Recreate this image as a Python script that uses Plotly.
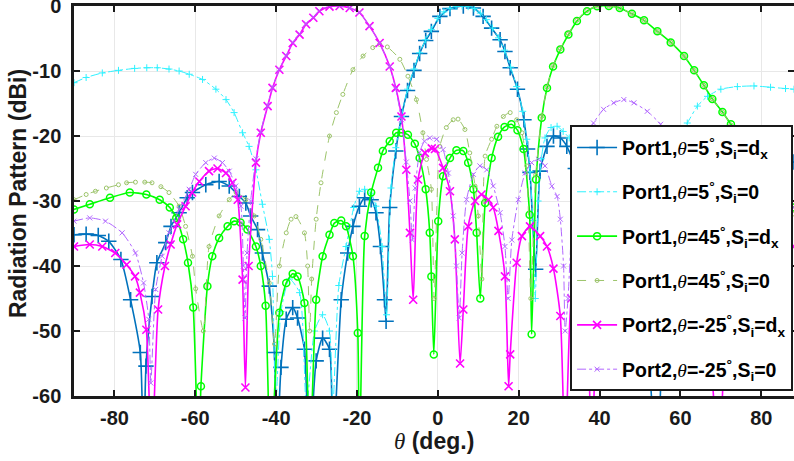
import plotly.graph_objects as go

# ---- data (theta in deg, pattern in dBi) ----
p1_5_dx = [(-90,-35.2),(-87,-35.1),(-84,-35.3),(-81.4,-36.2),(-78.4,-39),(-76,-45.2),(-73.6,-53.3),
           (-72.8,-70),(-72.2,-55.4),(-70.7,-44.7),(-69.5,-39.5),(-67.3,-36.4),(-66,-33.9),(-64,-31.8),
           (-62,-29.5),(-60.7,-28.7),(-57.4,-27.5),(-54.1,-27.0),(-51.6,-27.7),(-49.1,-29.3),(-47.5,-30.3),
           (-46.3,-32.3),(-44.6,-34.4),(-43.4,-38),(-41.7,-43.1),(-40.4,-53.3),(-39.9,-70),(-38.8,-55.6),
           (-37.5,-48.2),(-35.9,-46.4),(-34.7,-48),(-33,-52.8),(-31.8,-70),(-30.1,-54.6),(-28.5,-51.1),
           (-26.8,-52.8),(-26,-70),(-23.9,-45.2),(-22.3,-38),(-21,-33.9),(-19.4,-30.8),(-18.1,-29.5),
           (-16.5,-29.8),(-15.3,-31.8),(-14.2,-37),(-13.2,-45.2),(-12.8,-48.5),(-11.9,-31),(-10.4,-22.3),
           (-9,-17),(-7.5,-13),(-5.9,-9.9),(-4.5,-7.3),(-3,-5.3),(-1.6,-3.9),(0.5,-1.6),(3,-0.4),(6.3,0),
           (8.8,-0.3),(11.2,-1.6),(13.3,-3.4),(15.4,-5.2),(16.6,-7),(17.9,-9.5),(19.7,-12.8),(21.3,-17.5),
           (22.2,-22),(22.8,-25.6),(24.2,-40.5),(25.3,-25.4),(27,-21.6),(28.6,-20),(30.3,-20.3),(31.9,-21.6),
           (34,-25),(36,-30),(38,-36),(40,-33),(43,-29),(46,-31),(50,-38),(54.2,-70),(57,-36),(61,-30),
           (65,-29),(70,-32),(75,-30),(80,-27),(84,-25),(88.1,-24)]

p1_5_0 = [(-90,-11.8),(-87,-11.0),(-83,-10.3),(-79,-9.9),(-75,-9.6),(-72,-9.5),(-69.4,-9.5),(-66.5,-9.7),
          (-64,-10),(-61.5,-10.5),(-58.2,-11.3),(-54.9,-12.8),(-52.4,-14.4),(-50.4,-16.4),(-48.3,-19.5),
          (-46.7,-21.6),(-45,-25.2),(-43.4,-30.5),(-41.7,-35.9),(-40.9,-41.6),(-40.1,-62),(-38.8,-47),
          (-36.7,-42),(-34.2,-44.1),(-32.5,-62),(-30.5,-50),(-28.5,-47.5),(-26.8,-50),(-26,-62),
          (-24.5,-43),(-22.7,-37),(-20.8,-31),(-19.4,-28.5),(-18.1,-28.2),(-16.5,-28.8),(-15.3,-30.8),
          (-13.8,-37),(-12.7,-47.5),(-11.6,-28),(-10.4,-21.8),(-9,-17),(-7.5,-12.8),(-5.9,-9.7),
          (-4.5,-7.2),(-3,-5.2),(-1.6,-3.6),(0,-1.9),(1.5,-0.9),(3,-0.35),(4.5,-0.05),(6,0),(7.5,-0.1),
          (9,-0.4),(10.5,-1.1),(12,-2.1),(13.5,-3.4),(15,-4.9),(16.5,-6.8),(18,-9.4),(19.5,-12.4),
          (21,-16.2),(22,-20.5),(22.8,-25.5),(23.5,-33),(24.1,-45),(24.8,-30),(25.6,-23.5),(26.5,-20.3),
          (28,-18.7),(29.5,-18.5),(31,-19.3),(32.5,-20.3),(34,-22),(36,-25),(38,-29),(40,-35),(42,-45),
          (44,-38),(47,-32),(50,-28.5),(53,-26.5),(56,-23.5),(58,-21.5),(60,-19.5),(61.7,-18),
          (64.2,-15.4),(66.7,-13.9),(70,-12.8),(74.1,-12.4),(78.2,-12.3),(82.3,-12.5),(86,-12.7),(88.1,-12.8)]

p1_45_dx = [(-90,-31.3),(-86.1,-30.5),(-81.1,-29.5),(-76.2,-28.7),(-72.1,-29),(-68.8,-29.8),(-66.3,-31),
            (-64.7,-32.6),(-63,-35.9),(-61.8,-39.5),(-60.5,-46.4),(-59.2,-70),(-58.6,-58.5),(-57,-43.1),
            (-55.8,-38.5),(-54.1,-35.7),(-52,-33.9),(-50.4,-33.1),(-48.8,-33.3),(-47.1,-34.4),(-45,-37),
            (-43.8,-40),(-42.6,-46.1),(-41.4,-70),(-39.2,-47.2),(-37.5,-42.6),(-35.9,-41.2),(-34.7,-41.6),
            (-33,-45.7),(-31.7,-70),(-30.1,-45.2),(-28.5,-38.5),(-26.8,-35.2),(-25.6,-33.4),(-23.9,-33),
            (-22.7,-33.9),(-21,-38.5),(-19.8,-50.3),(-19.4,-70),(-18.1,-35.4),(-16.5,-28.7),(-14.8,-24.9),
            (-13.6,-22.3),(-11.9,-20.8),(-10.3,-19.5),(-9,-19.5),(-7.4,-19.8),(-5.7,-21.2),(-4.5,-23.4),
            (-3,-28.2),(-2,-34.9),(-1.6,-41.6),(-1,-53.6),(0.1,-33.1),(1.3,-26.2),(3,-23.4),(4.6,-22.2),
            (6.3,-22.3),(7.5,-24.1),(8.8,-28.2),(9.6,-34.9),(10.5,-45),(11.7,-30.3),(13.3,-23.4),
            (14.9,-20.1),(16.5,-18.6),(18.2,-18.2),(19.7,-19.1),(21.2,-22),(22.7,-32.1),(23.2,-50.5),
            (24.3,-26.7),(25.7,-17.2),(27,-12.6),(28.5,-9.3),(30.3,-6.7),(32.3,-4.4),(34.4,-2.3),
            (36.9,-0.8),(39.4,-0.05),(42.3,0),(45,-0.3),(48,-1.2),(51,-2.2),(54.3,-3.9),(57.6,-5.6),
            (60.9,-7.7),(63.4,-9.9),(65.8,-12.2),(67.9,-14.3),(70.4,-16.3),(72.5,-18.2),(75,-20.5),
            (78,-23.5),(81,-26.5),(84,-29),(88.1,-31)]

p1_45_0 = [(-90,-29.8),(-87,-29),(-84.7,-28.5),(-82,-28),(-79,-27.5),(-77,-27.2),(-74.8,-27.1),(-72.5,-27.1),
           (-70.7,-27.2),(-68.5,-27.8),(-66.5,-28.7),(-64,-30.8),(-62.4,-33.9),(-60.7,-38.5),(-59.9,-43.5),
           (-58,-50),(-56.6,-37),(-54.1,-32.3),(-51.6,-29.8),(-49.9,-28.7),(-47.5,-29.8),(-45.4,-32.3),
           (-43.8,-35.9),(-41.7,-42.6),(-40.4,-52),(-39.2,-40),(-37.5,-34.9),(-36.3,-32.8),(-35.1,-32.4),
           (-33,-34.9),(-32.2,-40),(-31.7,-50),(-31.2,-42),(-30.1,-32.8),(-28.9,-27.2),(-26.8,-20),
           (-25.1,-16.4),(-23.5,-13.6),(-21,-9.8),(-18.5,-7.7),(-16.1,-6.4),(-14.4,-5.9),(-12.5,-6.3),
           (-9.4,-8.2),(-7.4,-10.8),(-5.3,-14.4),(-3.7,-19.5),(-2.8,-23.6),(-1.6,-28.2),(-0.9,-45),
           (0.5,-21.6),(2.1,-18.7),(3.8,-17.5),(5,-17.4),(6.7,-19),(7.9,-22.6),(9.2,-27.7),(10,-32.3),
           (10.9,-42),(11.7,-23.1),(13.3,-20.5),(14.6,-18.5),(16.2,-17),(17.9,-16.4),(19.5,-17.5),
           (20.8,-19.5),(22,-24.6),(23,-45),(24.2,-26),(25.7,-17),(27,-12.5),(28.5,-9.2),(30.3,-6.6),
           (32.3,-4.3),(34.4,-2.2),(36.9,-0.7),(39.4,0),(42.3,0),(45,-0.3),(48,-1.2),(51,-2.2),
           (54.3,-3.9),(57.6,-5.6),(60.9,-7.7),(63.4,-9.9),(65.8,-12.2),(67.9,-14.3),(70.4,-16.3),
           (72.5,-18.3),(75,-21),(78,-24),(81,-27.5),(84,-30),(88.1,-32)]

p2_m25_dx = [(-90,-37),(-86.1,-36.7),(-83,-37),(-79.8,-38),(-77,-39.8),(-74.9,-41.6),(-73.7,-44.1),
             (-72.1,-49.8),(-70.8,-70),(-69.2,-46.7),(-67.5,-40),(-66.1,-36.7),(-64.5,-33.6),(-62.4,-30.8),
             (-60.8,-28.7),(-59,-27),(-56.6,-25.4),(-54.5,-25),(-52.4,-25.7),(-50.8,-27.2),(-49.5,-29.8),
             (-48.3,-42.1),(-47.6,-58.7),(-46.8,-40),(-45,-24.1),(-43.8,-19.5),(-42.1,-15.4),(-40.9,-12.6),
             (-39.2,-9.8),(-37.5,-7.7),(-35.9,-5.7),(-34.2,-4.4),(-32.6,-2.8),(-30.8,-1.8),(-29.3,-0.8),
             (-26.8,-0.1),(-24.3,0),(-21.8,-0.3),(-19.4,-1),(-16.9,-3.1),(-14.4,-5.7),(-11.9,-9.3),
             (-10.4,-12.6),(-9,-17),(-7.8,-25.2),(-6.9,-34.9),(-6.1,-45.2),(-4.9,-26.7),(-3.2,-22.6),
             (-1.5,-21.9),(-0.7,-22),(1.3,-24.9),(3,-28.5),(4.2,-35.9),(5.5,-55),(6.3,-46.7),(7.5,-33.9),
             (9.2,-30),(10.8,-29),(12.5,-29.8),(13.7,-31),(15,-34.6),(16.6,-41.6),(17.5,-58.5),(17.9,-53.6),
             (19.5,-39.5),(20.8,-35.4),(22.8,-33.9),(25.3,-35.4),(27,-37),(28.6,-40.4),(30.3,-47.7),
             (31.5,-70),(33,-45),(35,-40),(37,-48),(38,-70),(39.5,-48),(42,-40),(46,-38),(50,-40),(54,-45),
             (58,-42),(62,-40),(66,-45),(69.5,-70),(72,-45),(76,-40),(80,-38),(84,-37),(88.1,-37)]

p2_m25_0 = [(-90,-33.1),(-86.1,-32.6),(-82.2,-33.1),(-78.1,-34.9),(-74.8,-38),(-72.8,-42.6),(-71.5,-48.2),
            (-71,-58),(-69.8,-43.6),(-68.2,-38.5),(-66.5,-34.9),(-64,-31.3),(-61.5,-28.2),(-59.9,-25.9),
            (-57.4,-24.1),(-55.3,-23.4),(-53.3,-24.1),(-51.6,-25.4),(-50,-27.7),(-48.7,-30.8),(-48.1,-40),
            (-47.7,-48),(-47.2,-38),(-46.3,-30),(-45,-23.5),(-43.8,-19.3),(-42.1,-15.3),(-40.9,-12.5),
            (-39.2,-9.7),(-37.5,-7.6),(-35.9,-5.6),(-34.2,-4.3),(-32.6,-2.7),(-30.8,-1.7),(-29.3,-0.7),
            (-26.8,0),(-24.3,0),(-21.8,-0.3),(-19.4,-1),(-16.9,-3.1),(-14.4,-5.7),(-11.9,-9.3),
            (-10.4,-12.8),(-9,-17.5),(-7.8,-24),(-6.9,-30),(-6.3,-36),(-5.6,-28),(-4.5,-22.5),
            (-3.3,-20.8),(-2,-20.3),(-0.3,-20.5),(1.3,-22.1),(2.6,-25.7),(3.8,-32.3),(4.6,-40),(5.3,-48),
            (6,-38),(7.1,-29.8),(8.8,-25.9),(10.4,-24.6),(12.1,-25.2),(13.7,-27.7),(15.4,-31.8),(16.6,-37),
            (17.4,-45),(18.3,-36),(19.9,-29.8),(21.6,-25.7),(23.2,-24.1),(24.9,-23.6),(26.5,-24.6),
            (28.2,-27.7),(29.5,-29.3),(30.3,-32.8),(31.1,-40),(31.5,-50),(32.2,-45),(33.5,-30),(35,-24),
            (37,-20),(38.5,-18),(41,-15.9),(43.5,-14.9),(46,-14.4),(48.5,-14.9),(51.8,-16.2),(55.1,-18.2),
            (58,-21),(61,-25),(64,-30),(67,-38),(69,-45),(71,-38),(74,-33),(78,-31),(82,-30),(85,-30.5),
            (88.1,-31)]

TH = "<span style=\"font-family:'Liberation Serif';font-weight:normal;font-style:italic\">θ</span>"
legend_names = [
    f"Port1,{TH}=5<sup>°</sup>,S<sub>i</sub>=d<sub>x</sub>",
    f"Port1,{TH}=5<sup>°</sup>,S<sub>i</sub>=0",
    f"Port1,{TH}=45<sup>°</sup>,S<sub>i</sub>=d<sub>x</sub>",
    f"Port1,{TH}=45<sup>°</sup>,S<sub>i</sub>=0",
    f"Port2,{TH}=-25<sup>°</sup>,S<sub>i</sub>=d<sub>x</sub>",
    f"Port2,{TH}=-25<sup>°</sup>,S<sub>i</sub>=0",
]
x_ticks = [-80, -60, -40, -20, 0, 20, 40, 60, 80]
y_ticks = [-60, -50, -40, -30, -20, -10, 0]
x_title = f"{TH} (deg.)"
y_title = "Radiation Pattern (dBi)"

series = [p1_5_dx, p1_5_0, p1_45_dx, p1_45_0, p2_m25_dx, p2_m25_0]
styles = [
    dict(color="#0072BD", width=1.6, dash="solid", symbol="cross-thin", msize=11, mlw=1.6),
    dict(color="#2EF2FF", width=1.0, dash="dashdot", symbol="cross-thin", msize=5, mlw=1.0),
    dict(color="#00FF00", width=1.6, dash="solid", symbol="circle-open", msize=7, mlw=1.5),
    dict(color="#9CC46A", width=1.0, dash="dash", symbol="circle-open", msize=4, mlw=1.0),
    dict(color="#FF00FF", width=1.6, dash="solid", symbol="x-thin", msize=8, mlw=1.6),
    dict(color="#B267FF", width=1.0, dash="dashdot", symbol="x-thin", msize=5, mlw=1.0),
]

fig = go.Figure()
for i, (data, st, name) in enumerate(zip(series, styles, legend_names)):
    xs = [p[0] for p in data]
    ys = [p[1] for p in data]
    fig.add_trace(go.Scatter(
        x=xs, y=ys, name=name, mode="lines+markers", legendgroup=f"g{i}",
        line=dict(color=st["color"], width=st["width"], dash=st["dash"], shape="spline", smoothing=0.6),
        marker=dict(symbol=st["symbol"], size=st["msize"], color=st["color"],
                    line=dict(color=st["color"], width=st["mlw"])),
        cliponaxis=True,
    ))

axis_font = dict(family="Liberation Sans, Arial", size=20, color="#1a1a1a", weight="bold")
title_font = dict(family="Liberation Sans, Arial", size=23, color="#1a1a1a", weight="bold")
fig.update_layout(
    width=794, height=461,
    margin=dict(l=74, r=0, t=6, b=65, autoexpand=False),
    paper_bgcolor="white", plot_bgcolor="white",
    font=dict(family="Liberation Sans, Arial", color="#1a1a1a"),
    showlegend=True,
    legend=dict(
        x=0.689, y=0.695, xanchor="left", yanchor="top",
        bgcolor="white", bordercolor="#1a1a1a", borderwidth=2,
        font=dict(family="Liberation Sans, Arial", size=19.5, color="black", weight="bold"),
        itemwidth=40, tracegroupgap=16,
        title=dict(text=" ", font=dict(size=1)),
    ),
    xaxis=dict(
        range=[-90, 88.1], tickmode="array", tickvals=x_ticks, ticktext=[str(v) for v in x_ticks],
        showgrid=True, gridcolor="#E8E8E8", gridwidth=1, zeroline=False,
        showline=True, linecolor="#1a1a1a", linewidth=2.5, mirror="ticks",
        ticks="inside", ticklen=6, tickwidth=2, tickcolor="#1a1a1a", automargin=False,
        tickfont=axis_font, ticklabelstandoff=2, ticklabeloverflow="allow",
    ),
    yaxis=dict(
        range=[-60, 0], tickmode="array", tickvals=y_ticks, ticktext=[str(v) for v in y_ticks],
        showgrid=True, gridcolor="#E8E8E8", gridwidth=1, zeroline=False,
        showline=True, linecolor="#1a1a1a", linewidth=2.5, mirror="ticks",
        ticks="inside", ticklen=6, tickwidth=2, tickcolor="#1a1a1a", automargin=False,
        tickfont=axis_font, ticklabelstandoff=6, ticklabeloverflow="allow",
    ),
    annotations=[
        dict(text=x_title, xref="paper", yref="paper", x=0.5, y=-0.116,
             xanchor="center", yanchor="middle", showarrow=False, font=title_font),
        dict(text=y_title, xref="paper", yref="paper", x=-0.078, y=0.52, textangle=-90,
             xanchor="center", yanchor="middle", showarrow=False, font=title_font),
    ],
)

fig.write_html("out.html", config={"displayModeBar": False},
               post_script="document.body.style.margin='0';document.body.style.overflow='hidden';")
